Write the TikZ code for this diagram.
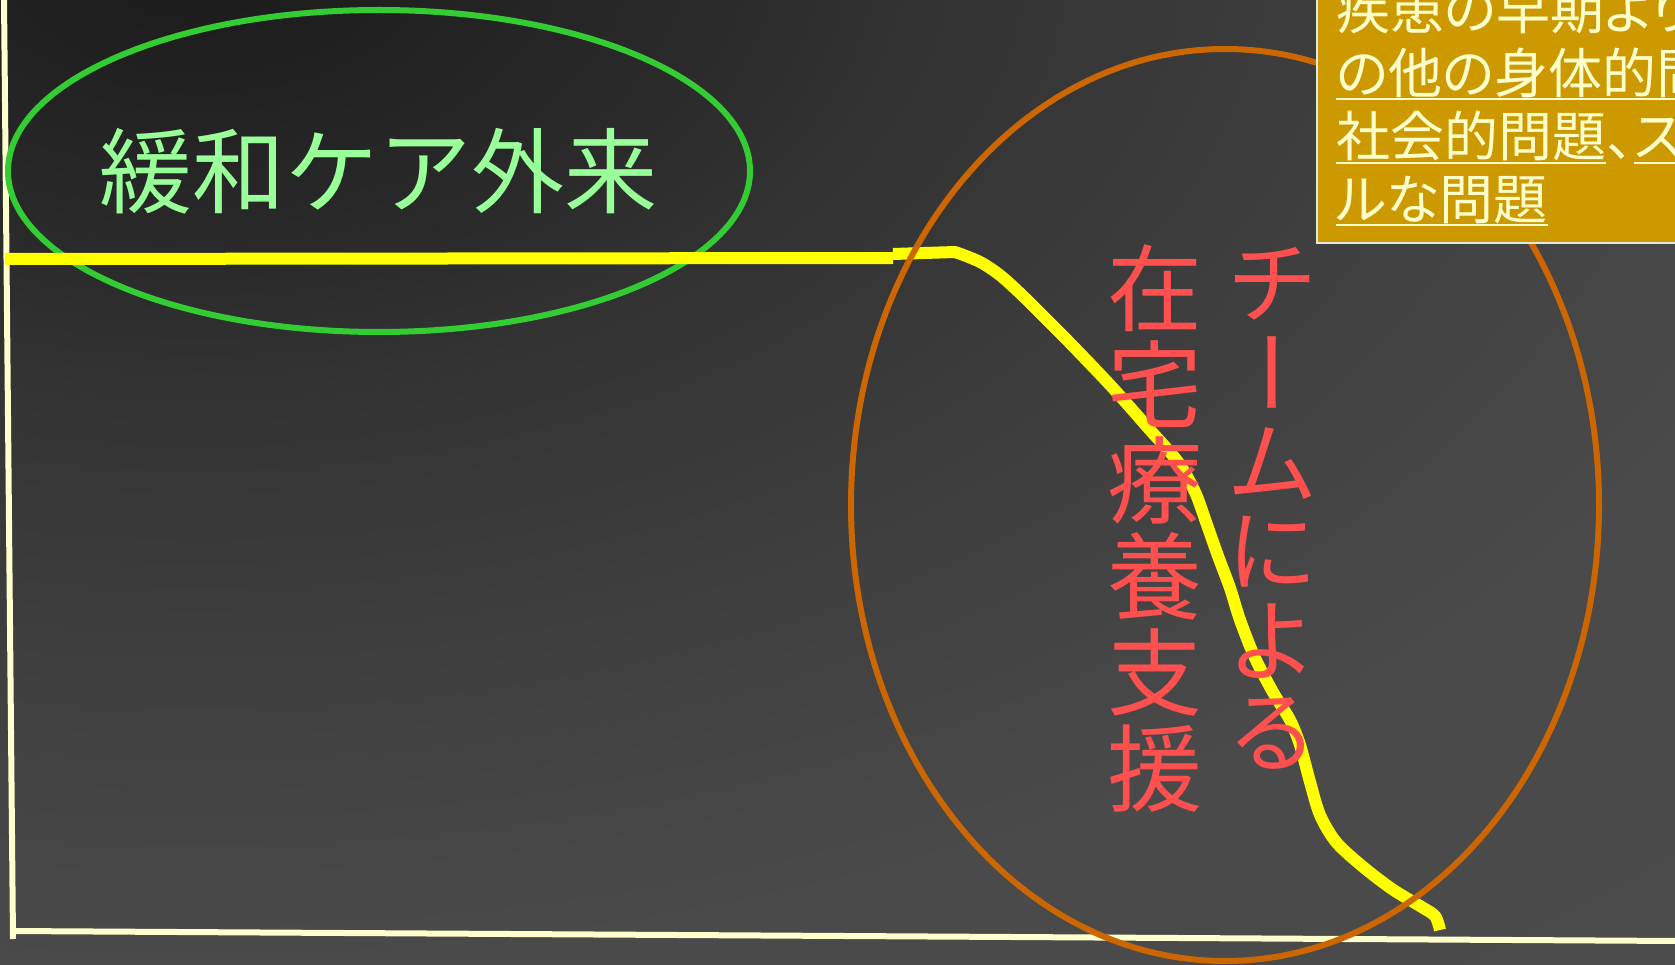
\documentclass[tikz,border=0pt]{standalone}
\usepackage{fontspec}
\usetikzlibrary{calc}
\newfontfamily\jp{Noto Sans CJK JP}
\newfontfamily\jpp{Noto Sans CJK JP}[RawFeature=+palt]
\definecolor{bgA}{HTML}{1A1A1A}
\definecolor{bgB}{HTML}{2A2A2A}
\definecolor{bgC}{HTML}{343434}
\definecolor{bgD}{HTML}{404040}
\definecolor{bgE}{HTML}{4A4A4A}
\definecolor{bgF}{HTML}{4C4C4C}
\definecolor{axiscol}{HTML}{FFFFCC}
\definecolor{ringgreen}{HTML}{33CC33}
\definecolor{txtgreen}{HTML}{99FF99}
\definecolor{curveyellow}{HTML}{FFFF00}
\definecolor{ringorange}{HTML}{CC6600}
\definecolor{txtred}{HTML}{FF5050}
\definecolor{boxgold}{HTML}{CC9900}
\definecolor{boxedge}{HTML}{E6E6E6}
\definecolor{boxtext}{HTML}{FFFFCC}
\pgfdeclareradialshading{bgrad}{\pgfpoint{0bp}{0bp}}{color(0bp)=(bgA); color(3.8bp)=(bgB); color(5.75bp)=(bgC); color(9.3bp)=(bgD); color(12.7bp)=(bgE); color(25bp)=(bgF); color(50bp)=(bgF)}
\begin{document}
\begin{tikzpicture}[x=1pt,y=-1pt,
  axisline/.style={draw=axiscol, line width=6pt},
  greenring/.style={draw=ringgreen, line width=6pt},
  orangering/.style={draw=ringorange, line width=6pt},
  yellowcurve/.style={draw=curveyellow, line width=12pt, line join=round},
  greentxt/.style={inner sep=0pt, text=txtgreen, font=\jp\fontsize{93}{93}\selectfont, text height=81.8pt, text depth=11.2pt},
  redbig/.style={inner sep=0pt, text=txtred, font=\jp\fontsize{95}{95}\selectfont, text height=83.6pt, text depth=11.4pt},
  redmid/.style={inner sep=0pt, text=txtred, font=\jp\fontsize{90}{90}\selectfont, text height=79.2pt, text depth=10.8pt},
  boxtxt/.style={inner sep=0pt, anchor=base west, text=boxtext, font=\jpp\fontsize{54}{54}\selectfont},
  uline/.style={draw=boxtext, line width=2pt}]
\useasboundingbox (0,0) rectangle (1675,965);
\clip (0,0) rectangle (1675,965);
% background
\fill[bgF] (0,0) rectangle (1675,965);
\shade[shading=bgrad] (200,-50) ellipse [x radius=3333, y radius=2000];
% axes
\coordinate (ytop) at (4,-2);
\coordinate (ybot) at (13,939);
\coordinate (xstart) at (11,931);
\coordinate (xend) at (1680,941);
\draw[axisline] (ytop) -- (ybot);
\draw[axisline] (xstart) -- (xend);
% green ellipse
\draw[greenring] (379,171) ellipse [x radius=371, y radius=161];
% yellow curve
\draw[yellowcurve] (5,259) -- (893,258);
\draw[yellowcurve] (893,254) -- plot[smooth, tension=0.5] coordinates {(955,252) (966,256) (982,263) (1001,276) (1025,298) (1068,341) (1111,386) (1150,430) (1178,462) (1195,492) (1206,522) (1218,556) (1230,588) (1240,620) (1255,658) (1274,694) (1290,720) (1300,745) (1310,782) (1320,815) (1336,842) (1362,866) (1392,889) (1420,906) (1435,916) (1440,930)};
% green text
\node[greentxt] (gtext) at (378,171) {緩和ケア外来};
% orange ellipse
\draw[orangering] (1225,505) ellipse [x radius=374, y radius=456];
% red vertical texts
\foreach \c [count=\i] in {在,宅,療,養,支,援}
  \node[redbig] (z\i) at (1155,{288+96*(\i-1)}) {\c};
\node[redmid] (t1) at (1272,282) {チ};
\node[redmid, rotate=-90] (t2) at (1272,373) {ー};
\node[redmid] (t3) at (1272,462) {ム};
\node[redmid] (t4) at (1272,550) {に};
\node[redmid] (t5) at (1272,640) {よ};
\node[redmid] (t6) at (1272,731) {る};
% gold box
\draw[draw=boxedge, fill=boxgold, line width=2pt] (1317,-10) rectangle (1690,243);
\node[boxtxt] (l1) at (1336,30) {疾患の早期より};
\node[boxtxt] (l2) at (1336,94) {の他の身体的問題};
\node[boxtxt] (l3a) at (1336,157) {社会的問題};
\node[boxtxt] (l3b) at (l3a.base east) {、};
\node[boxtxt] (l3c) at (l3b.base east) {ス};
\node[boxtxt] (l4) at (1336,220) {ルな問題};
\draw[uline] ($(l2.base west)+(0,5)$) -- ($(l2.base east)+(0,5)$);
\draw[uline] ($(l3a.base west)+(0,6)$) -- ($(l3a.base east)+(0,6)$);
\draw[uline] ($(l3c.base west)+(0,6)$) -- ($(l3c.base east)+(0,6)$);
\draw[uline] ($(l4.base west)+(0,5)$) -- ($(l4.base east)+(0,5)$);
\end{tikzpicture}
\end{document}
